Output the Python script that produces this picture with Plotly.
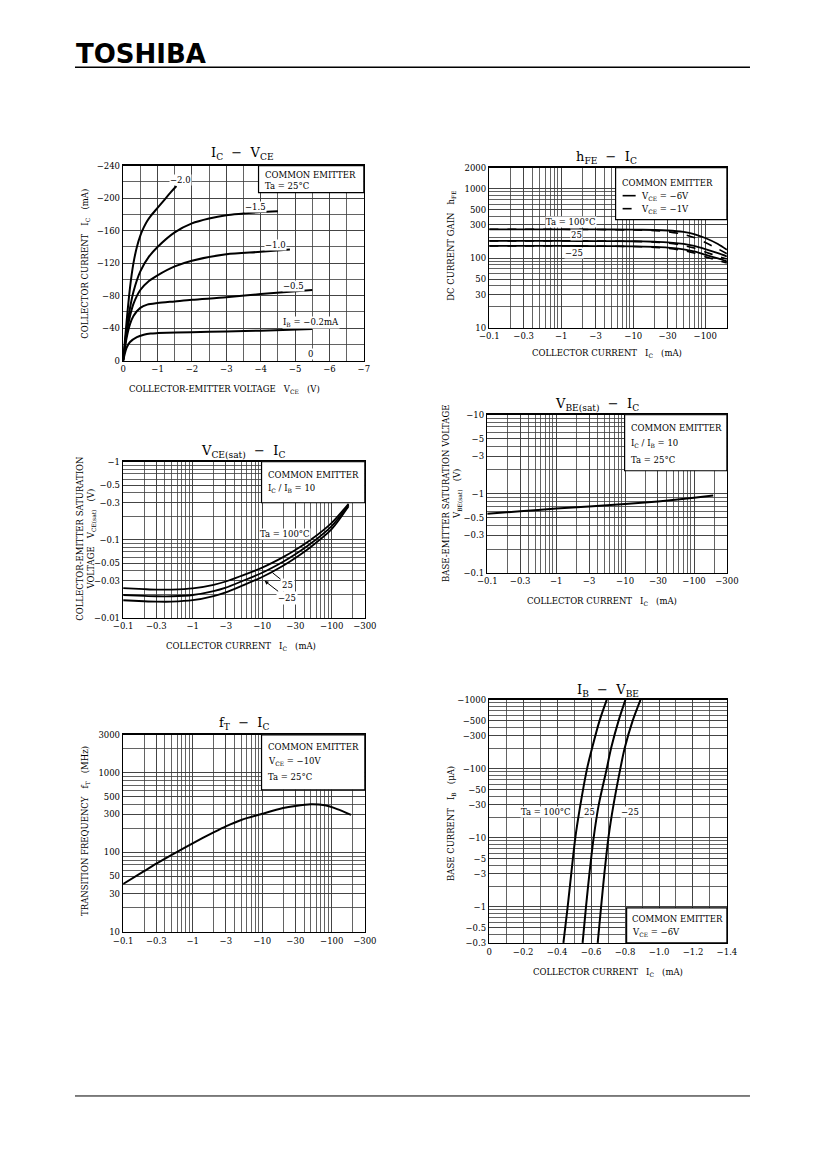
import math
import numpy as np
import plotly.graph_objects as go

# ---------------- page geometry helpers ----------------
FW, FH = 811, 1153
KX, MX = 0.970, 20.8
KY, MY = 0.991, 12.5


def X(p):
    return (p / KX - MX) / FW


def Y(p):
    return 1 - (p / KY - MY) / FH


FONT = "DejaVu Serif"
GRID = "#3c3c3c"
M = "\u2212"
TF = 8.5   # tick font
AF = 8.5   # axis title font
BF = 8.5   # box / label font

# ---------------- data ----------------
# IC - VCE  (Ta = 25 C)   VCE [V], IC [mA]
vce_ib20 = [0, -0.1, -0.2, -0.3, -0.4, -0.5, -0.6, -0.7, -0.8, -1.0, -1.2, -1.4, -1.55]
ic_ib20 = [0, -48, -90, -120, -140, -154, -164, -172, -178, -188, -198, -208, -215]
vce_ib15 = [0, -0.1, -0.2, -0.3, -0.5, -0.75, -1.0, -1.5, -2.0, -2.5, -3.0, -3.5, -4.0, -4.5]
ic_ib15 = [0, -38, -65, -85, -110, -128, -140, -158, -169, -175, -179, -181, -183, -184]
vce_ib10 = [0, -0.1, -0.2, -0.3, -0.5, -0.75, -1.0, -1.5, -2.0, -3.0, -4.0, -4.85]
ic_ib10 = [0, -33, -55, -70, -87, -98, -105, -116, -123, -131, -134, -137]
vce_ib05 = [0, -0.05, -0.1, -0.2, -0.3, -0.5, -0.7, -1.0, -1.5, -2.0, -3.0, -4.0, -5.5]
ic_ib05 = [0, -15, -28, -45, -55, -65, -69, -71, -73, -75, -78, -82, -87]
vce_ib02 = [0, -0.05, -0.1, -0.2, -0.4, -0.6, -0.8, -1.0, -2.0, -3.0, -4.0, -5.5]
ic_ib02 = [0, -9, -16, -23, -29, -32, -33.5, -34, -35, -36, -37, -39]

# hFE - IC
ic_hfe = [-0.1, -0.3, -1, -3, -10, -20, -30, -50, -70, -100, -150, -200]
hfe_100_6v = [260, 260, 260, 259, 257, 254, 250, 238, 222, 195, 160, 132]
hfe_100_1v = [260, 260, 260, 258, 254, 248, 240, 220, 198, 168, 136, 116]
hfe_25_6v = [177, 177, 177, 176, 175, 172, 169, 160, 150, 135, 118, 106]
hfe_25_1v = [177, 177, 177, 176, 174, 170, 165, 152, 140, 123, 106, 97]
hfe_m25_6v = [150, 150, 150, 149, 148, 145, 142, 134, 125, 112, 99, 90]
hfe_m25_1v = [150, 150, 150, 149, 147, 143, 139, 129, 119, 105, 93, 85]

# VCE(sat) - IC   (IC/IB = 10)
ic_vcesat = [-0.1, -0.2, -0.3, -0.5, -1, -2, -3, -5, -10, -20, -30, -50, -100, -175]
vcesat_100 = [-0.0240, -0.0233, -0.0230, -0.0230, -0.0238, -0.0265, -0.0292, -0.0345, -0.0440, -0.060, -0.0740, -0.100, -0.165, -0.29]
vcesat_25 = [-0.0196, -0.0191, -0.0189, -0.0189, -0.0196, -0.0220, -0.0244, -0.0292, -0.0378, -0.0523, -0.0652, -0.0895, -0.150, -0.28]
vcesat_m25 = [-0.0168, -0.0163, -0.0161, -0.0161, -0.0168, -0.0190, -0.0212, -0.0255, -0.0333, -0.0465, -0.0585, -0.081, -0.137, -0.27]

# VBE(sat) - IC
ic_vbesat = [-0.1, -0.3, -1, -3, -10, -30, -100, -190]
vbesat = [-0.56, -0.60, -0.65, -0.69, -0.74, -0.80, -0.89, -0.95]

# fT - IC   (VCE = -10 V)
ic_ft = [-0.1, -0.2, -0.3, -0.5, -1, -2, -3, -5, -10, -20, -30, -50, -80, -120, -190]
ft = [40, 58, 72, 93, 130, 178, 212, 255, 305, 360, 383, 402, 390, 350, 296]

# IB - VBE  (VCE = -6 V)
ib_ua = [-0.3, -1, -3, -10, -30, -100, -200, -500, -1000]
vbe_100 = [-0.437, -0.462, -0.483, -0.507, -0.537, -0.576, -0.606, -0.650, -0.692]
vbe_25 = [-0.550, -0.570, -0.590, -0.615, -0.645, -0.692, -0.718, -0.762, -0.802]
vbe_m25 = [-0.639, -0.659, -0.678, -0.702, -0.732, -0.772, -0.798, -0.845, -0.891]

# tick labels
ic_tick_vals = [0.1, 0.3, 1, 3, 10, 30, 100, 300]
ic_tick_text = [M + "0.1", M + "0.3", M + "1", M + "3", M + "10", M + "30", M + "100", M + "300"]
vce_tick_vals = [0, -1, -2, -3, -4, -5, -6, -7]
vce_tick_text = ["0", M + "1", M + "2", M + "3", M + "4", M + "5", M + "6", M + "7"]
ic_lin_tick_vals = [0, -40, -80, -120, -160, -200, -240]
ic_lin_tick_text = ["0", M + "40", M + "80", M + "120", M + "160", M + "200", M + "240"]
hfe_tick_vals = [10, 30, 50, 100, 300, 500, 1000, 2000]
hfe_tick_text = ["10", "30", "50", "100", "300", "500", "1000", "2000"]
vcesat_tick_vals = [0.01, 0.03, 0.05, 0.1, 0.3, 0.5, 1]
vcesat_tick_text = [M + "0.01", M + "0.03", M + "0.05", M + "0.1", M + "0.3", M + "0.5", M + "1"]
vbesat_tick_vals = [0.1, 0.3, 0.5, 1, 3, 5, 10]
vbesat_tick_text = [M + "0.1", M + "0.3", M + "0.5", M + "1", M + "3", M + "5", M + "10"]
ft_tick_vals = [10, 30, 50, 100, 300, 500, 1000, 3000]
ft_tick_text = ["10", "30", "50", "100", "300", "500", "1000", "3000"]
vbe_tick_vals = [0, -0.2, -0.4, -0.6, -0.8, -1.0, -1.2, -1.4]
vbe_tick_text = ["0", M + "0.2", M + "0.4", M + "0.6", M + "0.8", M + "1.0", M + "1.2", M + "1.4"]
ib_tick_vals = [0.3, 0.5, 1, 3, 5, 10, 30, 50, 100, 300, 500, 1000]
ib_tick_text = [M + "0.3", M + "0.5", M + "1", M + "3", M + "5", M + "10", M + "30", M + "50",
                M + "100", M + "300", M + "500", M + "1000"]


# ---------------- helpers ----------------
def log_grid(lo, hi):
    vals = []
    e = math.floor(math.log10(lo) + 1e-9)
    while 10 ** e <= hi * 1.0001:
        for m in range(1, 10):
            v = m * 10 ** e
            if lo * 0.9999 <= v <= hi * 1.0001:
                vals.append(v)
        e += 1
    return vals


def lin_grid(a, b, step):
    n = int(round(abs(b - a) / step))
    s = step if b > a else -step
    return [round(a + i * s, 6) for i in range(n + 1)]


def axis(dom, rng, typ, grid, vals, texts, anchor):
    return dict(domain=dom, range=rng, type=typ, tickmode="array", tickvals=vals,
                ticktext=texts, showgrid=True, gridcolor=GRID, gridwidth=0.8,
                minor=dict(tickmode="array", tickvals=grid, showgrid=True, gridcolor=GRID,
                           gridwidth=0.8, ticks=""),
                showline=True, linecolor="black", linewidth=1.4,
                mirror=True, ticks="", zeroline=False, anchor=anchor,
                tickfont=dict(family=FONT, size=TF, color="black"), fixedrange=True)


fig = go.Figure()
layout = {}

# panel boxes in page px: (left, right, top, bottom)
P1 = (125, 365, 165, 360)
P2 = (490, 727, 167, 327)
P3 = (125, 366, 461, 617)
P4 = (488, 727, 414, 572)
P5 = (125, 366, 734, 931)
P6 = (490, 727, 699, 942)


def dx(p):
    return [X(p[0]), X(p[1])]


def dy(p):
    return [Y(p[3]), Y(p[2])]


layout["xaxis"] = axis(dx(P1), [0, -7], "linear", lin_grid(0, -7, 0.5), vce_tick_vals, vce_tick_text, "y")
layout["yaxis"] = axis(dy(P1), [0, -240], "linear", lin_grid(0, -240, 20), ic_lin_tick_vals, ic_lin_tick_text, "x")
layout["xaxis2"] = axis(dx(P2), [-1, math.log10(200)], "log", log_grid(0.1, 200), ic_tick_vals, ic_tick_text, "y2")
layout["yaxis2"] = axis(dy(P2), [1, math.log10(2000)], "log", log_grid(10, 2000), hfe_tick_vals, hfe_tick_text, "x2")
layout["xaxis3"] = axis(dx(P3), [-1, math.log10(300)], "log", log_grid(0.1, 300), ic_tick_vals, ic_tick_text, "y3")
layout["yaxis3"] = axis(dy(P3), [-2, 0], "log", log_grid(0.01, 1), vcesat_tick_vals, vcesat_tick_text, "x3")
layout["xaxis4"] = axis(dx(P4), [-1, math.log10(300)], "log", log_grid(0.1, 300), ic_tick_vals, ic_tick_text, "y4")
layout["yaxis4"] = axis(dy(P4), [-1, 1], "log", log_grid(0.1, 10), vbesat_tick_vals, vbesat_tick_text, "x4")
layout["xaxis5"] = axis(dx(P5), [-1, math.log10(300)], "log", log_grid(0.1, 300), ic_tick_vals, ic_tick_text, "y5")
layout["yaxis5"] = axis(dy(P5), [1, math.log10(3000)], "log", log_grid(10, 3000), ft_tick_vals, ft_tick_text, "x5")
layout["xaxis6"] = axis(dx(P6), [0, -1.4], "linear", lin_grid(0, -1.4, 0.1), vbe_tick_vals, vbe_tick_text, "y6")
layout["yaxis6"] = axis(dy(P6), [math.log10(0.3), 3], "log", log_grid(0.3, 1000), ib_tick_vals, ib_tick_text, "x6")


def line(x, y, ax, width=2.0, dash="solid"):
    fig.add_trace(go.Scatter(x=x, y=y, mode="lines", xaxis="x" + ax, yaxis="y" + ax,
                             line=dict(color="black", width=width, dash=dash, shape="spline", smoothing=0.8),
                             showlegend=False, hoverinfo="skip"))


for vx, iy in [(vce_ib20, ic_ib20), (vce_ib15, ic_ib15), (vce_ib10, ic_ib10),
               (vce_ib05, ic_ib05), (vce_ib02, ic_ib02)]:
    line(vx, iy, "")

a = np.abs(ic_hfe)
for h in (hfe_100_6v, hfe_25_6v, hfe_m25_6v):
    line(a, h, "2", width=1.8)
for h in (hfe_100_1v, hfe_25_1v, hfe_m25_1v):
    line(a, h, "2", width=1.6, dash="dash")

for v in (vcesat_100, vcesat_25, vcesat_m25):
    line(np.abs(ic_vcesat), np.abs(v), "3", width=1.8)

line(np.abs(ic_vbesat), np.abs(vbesat), "4", width=2.0)

line(np.abs(ic_ft), ft, "5", width=2.0)

for v in (vbe_100, vbe_25, vbe_m25):
    line(v, np.abs(ib_ua), "6", width=2.0)

ann = []
shapes = []


def text(px_, py_, t, size=BF, xanchor="center", yanchor="middle", bg=None, angle=0, family=FONT):
    d = dict(x=X(px_), y=Y(py_), xref="paper", yref="paper", text=t, showarrow=False,
             xanchor=xanchor, yanchor=yanchor, textangle=angle,
             font=dict(family=family, size=size, color="black"), borderpad=0)
    if bg:
        d["bgcolor"] = bg
    ann.append(d)


def box(l, t, r, b):
    shapes.append(dict(type="rect", xref="paper", yref="paper", x0=X(l), x1=X(r), y0=Y(b), y1=Y(t),
                       line=dict(color="black", width=1.2), fillcolor="white", layer="above"))


def hline(x0, x1, yy, w=1.0, dash="solid"):
    shapes.append(dict(type="line", xref="paper", yref="paper", x0=X(x0), x1=X(x1), y0=Y(yy), y1=Y(yy),
                       line=dict(color="black", width=w, dash=dash)))


# header
text(77, 53, "<b>TOSHIBA</b>", size=26, xanchor="left", family="DejaVu Sans")
hline(77, 750, 66.5, 1.5)
hline(77, 750, 1095, 1.0)

# titles
text(244, 153, "I<sub>C</sub>  \u2212  V<sub>CE</sub>", size=13)
text(607, 157, "h<sub>FE</sub>  \u2212  I<sub>C</sub>", size=13)
text(245, 451, "V<sub>CE(sat)</sub>  \u2212  I<sub>C</sub>", size=13)
text(597, 404, "V<sub>BE(sat)</sub>  \u2212  I<sub>C</sub>", size=13)
text(246, 723, "f<sub>T</sub>  \u2212  I<sub>C</sub>", size=13)
text(608, 690, "I<sub>B</sub>  \u2212  V<sub>BE</sub>", size=13)

# axis titles
text(226, 389, "COLLECTOR-EMITTER VOLTAGE   V<sub>CE</sub>   (V)", size=AF)
text(607, 353, "COLLECTOR CURRENT   I<sub>C</sub>   (mA)", size=AF)
text(243, 646, "COLLECTOR CURRENT   I<sub>C</sub>   (mA)", size=AF)
text(602, 601, "COLLECTOR CURRENT   I<sub>C</sub>   (mA)", size=AF)
text(608, 972, "COLLECTOR CURRENT   I<sub>C</sub>   (mA)", size=AF)

text(88, 263, "COLLECTOR CURRENT   I<sub>C</sub>   (mA)", size=AF, angle=-90)
text(453, 245, "DC CURRENT GAIN   h<sub>FE</sub>", size=AF, angle=-90)
text(88, 538, "COLLECTOR-EMITTER SATURATION<br>VOLTAGE   V<sub>CE(sat)</sub>   (V)", size=AF, angle=-90)
text(453, 493, "BASE-EMITTER SATURATION VOLTAGE<br>V<sub>BE(sat)</sub>   (V)", size=AF, angle=-90)
text(88, 830, "TRANSITION FREQUENCY   f<sub>T</sub>   (MHz)", size=AF, angle=-90)
text(453, 823, "BASE CURRENT   I<sub>B</sub>   (\u03bcA)", size=AF, angle=-90)

# legend boxes
box(260, 165, 365, 192)
text(265, 174, "COMMON EMITTER", xanchor="left")
text(265, 185, "Ta = 25\u00b0C", xanchor="left")

box(616, 167, 727, 219)
text(621, 182, "COMMON EMITTER", xanchor="left")
hline(623, 636, 195, 1.6)
hline(623, 636, 208, 1.6, "dash")
text(640, 196, "V<sub>CE</sub> = \u22126V", xanchor="left")
text(640, 209, "V<sub>CE</sub> = \u22121V", xanchor="left")

box(263, 461, 366, 502)
text(268, 474, "COMMON EMITTER", xanchor="left")
text(268, 488, "I<sub>C</sub> / I<sub>B</sub> = 10", xanchor="left")

box(625, 414, 727, 470)
text(630, 427, "COMMON EMITTER", xanchor="left")
text(630, 443, "I<sub>C</sub> / I<sub>B</sub> = 10", xanchor="left")
text(630, 459, "Ta = 25\u00b0C", xanchor="left")

box(263, 734, 366, 789)
text(268, 746, "COMMON EMITTER", xanchor="left")
text(268, 761, "V<sub>CE</sub> = \u221210V", xanchor="left")
text(268, 776, "Ta = 25\u00b0C", xanchor="left")

box(627, 907, 727, 942)
text(631, 918, "COMMON EMITTER", xanchor="left")
text(631, 932, "V<sub>CE</sub> = \u22126V", xanchor="left")

# curve labels
text(182, 179, "\u22122.0", bg="white")
text(257, 206, "\u22121.5", bg="white")
text(277, 244, "\u22121.0", bg="white")
text(295, 285, "\u22120.5", bg="white")
text(312, 322, "I<sub>B</sub> = \u22120.2mA", bg="white")
text(312, 353, "0", bg="white")

text(572, 221, "Ta = 100\u00b0C", bg="white")
text(577, 234, "25", bg="white")
text(575, 252, "\u221225", bg="white")

text(286, 533, "Ta = 100\u00b0C", bg="white")
ann.append(dict(x=X(274), y=Y(572), xref="paper", yref="paper", text="25", showarrow=True,
                arrowhead=0, arrowwidth=1, arrowcolor="black", ax=15, ay=12, bgcolor="white",
                font=dict(family=FONT, size=BF, color="black")))
ann.append(dict(x=X(266), y=Y(580), xref="paper", yref="paper", text="\u221225", showarrow=True,
                arrowhead=2, arrowsize=0.8, arrowwidth=1, arrowcolor="black", ax=22, ay=17, bgcolor="white",
                font=dict(family=FONT, size=BF, color="black")))

text(547, 811, "Ta = 100\u00b0C", bg="white")
text(590, 811, "25", bg="white")
text(630, 811, "\u221225", bg="white")

fig.update_layout(**layout)
fig.update_layout(width=FW, height=FH, margin=dict(l=0, r=0, t=0, b=0),
                  paper_bgcolor="white", plot_bgcolor="white", annotations=ann, shapes=shapes,
                  showlegend=False)
fig.write_html("out.html", config={"displayModeBar": False, "staticPlot": True})
